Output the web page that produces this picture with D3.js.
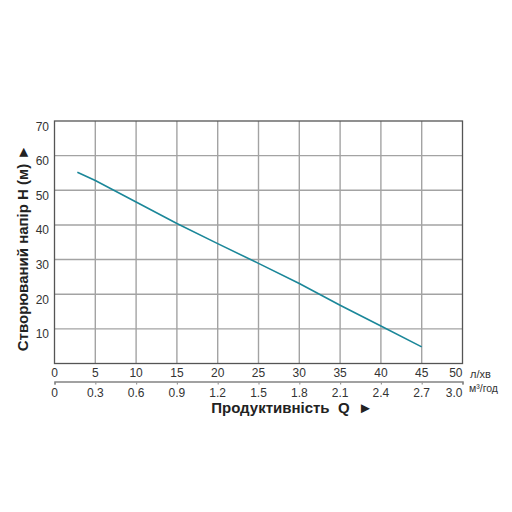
<!DOCTYPE html>
<html lang="uk">
<head>
<meta charset="UTF-8">
<title>Pump curve</title>
<script src="https://d3js.org/d3.v7.min.js"></script>
<style>
  body { margin: 0; background: #fff; }
  text { font-family: "Liberation Sans", Arial, sans-serif; }
</style>
</head>
<body>
<svg id="canvas" width="512" height="512"></svg>
<script>
  // curve: flow (л/хв) vs head (м)
  const flow = [2.8, 5, 10, 15, 20, 25, 30, 35, 40, 45];
  const head = [55.2, 52.8, 46.6, 40.4, 34.6, 28.9, 23.1, 16.8, 10.8, 4.8];

  const flowTicks = [0, 5, 10, 15, 20, 25, 30, 35, 40, 45, 50];
  const cubicTicks = [0, 0.3, 0.6, 0.9, 1.2, 1.5, 1.8, 2.1, 2.4, 2.7, 3.0];
  const headTicks = [10, 20, 30, 40, 50, 60, 70];

  const plotL = 54.5, plotR = 462.5, plotT = 121, plotB = 363.5;
  const svg = d3.select("#canvas");

  const x = d3.scaleLinear().domain([0, 50]).range([plotL, plotR]);
  const x2 = d3.scaleLinear().domain([0, 3.0]).range([plotL, plotR]);
  const y = d3.scaleLinear().domain([0, 70]).range([plotB, plotT]);

  // grid
  const grid = svg.append("g").attr("stroke", "#a3a3a3").attr("stroke-width", 1.4);
  grid.selectAll("line.v").data(flowTicks.slice(1, -1)).enter().append("line")
    .attr("x1", d => x(d)).attr("x2", d => x(d))
    .attr("y1", plotT).attr("y2", plotB);
  grid.selectAll("line.h").data(headTicks.slice(0, -1)).enter().append("line")
    .attr("x1", plotL).attr("x2", plotR)
    .attr("y1", d => y(d)).attr("y2", d => y(d));

  // frame
  svg.append("rect")
    .attr("x", plotL).attr("y", plotT)
    .attr("width", plotR - plotL).attr("height", plotB - plotT)
    .attr("fill", "none").attr("stroke", "#555").attr("stroke-width", 1.3);

  // curve
  const pts = flow.map((f, i) => [f, head[i]]);
  svg.append("path")
    .datum(pts)
    .attr("fill", "none")
    .attr("stroke", "#1b8799")
    .attr("stroke-width", 1.6)
    .attr("d", d3.line().x(d => x(d[0])).y(d => y(d[1])));

  // y labels
  svg.append("g").selectAll("text").data(headTicks).enter().append("text")
    .attr("x", 49).attr("y", d => y(d) + 9.5)
    .attr("text-anchor", "end")
    .attr("font-size", 12).attr("fill", "#333")
    .text(d => d);

  // last label sits inside the frame edge
  const lastFlow = flowTicks[flowTicks.length - 1];
  const lastCubic = cubicTicks[cubicTicks.length - 1];

  // flow labels (л/хв)
  svg.append("g").selectAll("text").data(flowTicks).enter().append("text")
    .attr("x", d => d === lastFlow ? plotR : x(d)).attr("y", 376.5)
    .attr("text-anchor", d => d === lastFlow ? "end" : "middle")
    .attr("font-size", 12).attr("fill", "#333")
    .text(d => d);
  svg.append("text").attr("x", 470).attr("y", 377.5)
    .attr("font-size", 11).attr("fill", "#333").text("л/хв");

  // second axis (м³/год)
  const ax2 = d3.axisBottom(x2).tickValues(cubicTicks).tickSize(3).tickFormat("");
  const g2 = svg.append("g").attr("transform", "translate(0,381.5)").call(ax2);
  g2.select(".domain").attr("stroke", "#444").attr("stroke-width", 1.2);
  g2.selectAll(".tick line").attr("stroke", "#999").attr("stroke-width", 1.2);

  svg.append("g").selectAll("text").data(cubicTicks).enter().append("text")
    .attr("x", d => d === lastCubic ? plotR : x2(d)).attr("y", 396.5)
    .attr("text-anchor", d => d === lastCubic ? "end" : "middle")
    .attr("font-size", 12).attr("fill", "#333")
    .text(d => d === 0 ? "0" : d.toFixed(1));
  svg.append("text").attr("x", 469).attr("y", 391.5)
    .attr("font-size", 10.5).attr("fill", "#333").text("м³/год");

  // titles
  svg.append("text")
    .attr("x", 292).attr("y", 413)
    .attr("text-anchor", "middle")
    .attr("font-size", 15).attr("font-weight", "bold").attr("fill", "#222")
    .attr("xml:space", "preserve")
    .text("Продуктивність  Q  ►");

  svg.append("text")
    .attr("transform", "translate(28,248) rotate(-90)")
    .attr("text-anchor", "middle")
    .attr("font-size", 15).attr("font-weight", "bold").attr("fill", "#222")
    .text("Створюваний напір H (м) ►");
</script>
</body>
</html>
